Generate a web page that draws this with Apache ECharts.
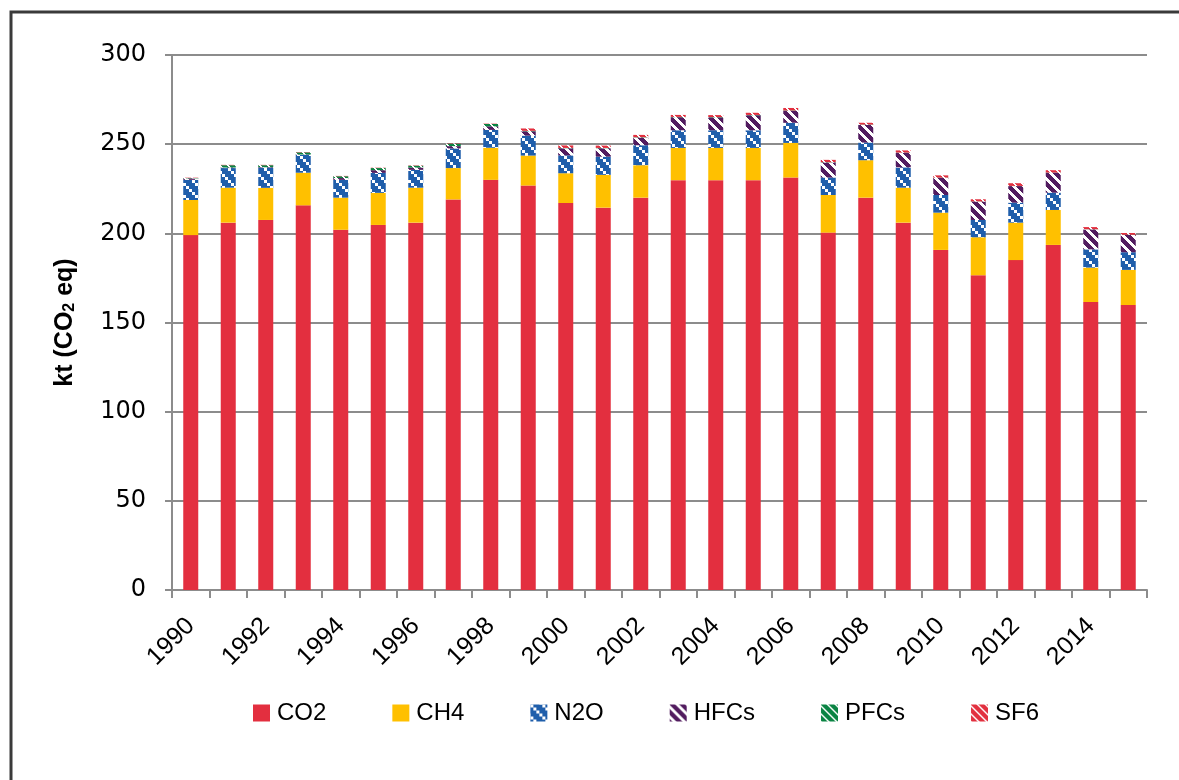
<!DOCTYPE html>
<html lang="en">

<head>
    <meta charset="UTF-8">
    <title>Emissions by gas</title>
    <style>
        html,
        body {
            margin: 0;
            height: 100%;
            background: #fff;
        }

        #container {
            width: 1179px;
            height: 780px;
        }
    </style>
</head>

<body>
    <div id="container"></div>
    <script src="https://cdn.jsdelivr.net/npm/echarts@6/dist/echarts.min.js"></script>
    <script>
        // values (kt CO2 eq)
        var years = ['1990', '1991', '1992', '1993', '1994', '1995', '1996', '1997', '1998', '1999',
            '2000', '2001', '2002', '2003', '2004', '2005', '2006', '2007', '2008', '2009',
            '2010', '2011', '2012', '2013', '2014', '2015'];
        var co2 = [199, 206, 207.5, 215.7, 202, 204.7, 206, 219, 230, 226.8,
            217, 214.4, 220, 229.8, 229.8, 229.8, 231.3, 200.4, 220, 206,
            190.7, 176.5, 185, 193.5, 161.5, 159.8];
        var ch4 = [19.7, 19.6, 18, 18.3, 18, 18, 19.6, 17.6, 18, 16.8,
            16.7, 18.4, 18.2, 18.1, 18.1, 18.1, 19.4, 21.1, 21, 19.6,
            20.9, 21.3, 21, 19.6, 19.3, 19.7];
        var n2o = [11.3, 11, 11.3, 10, 10, 11.2, 10, 11, 10, 11.2,
            10, 10.2, 11.2, 9.9, 9.9, 9.9, 11.3, 9.8, 9.9, 11.4,
            9.9, 9.7, 11.2, 9.7, 10.2, 9.9];
        var hfcs = [0.8, 0.3, 0.3, 0.2, 1.0, 1.5, 1.3, 1.3, 2.0, 2.4,
            4.0, 4.7, 4.3, 7.3, 7.2, 8.4, 6.7, 8.4, 9.9, 8.2,
            9.7, 10.3, 9.3, 11.2, 11.2, 9.7];
        var pfcs = [0.2, 1.3, 1.1, 1.2, 1.0, 1.2, 1.0, 1.3, 1.3, 0.3,
            0.2, 0.2, 0.2, 0.2, 0.2, 0.2, 0.2, 0.2, 0.2, 0.1,
            0.1, 0.1, 0.1, 0.1, 0.1, 0.1];
        var sf6 = [0.2, 0.2, 0.2, 0.2, 0.2, 0.2, 0.2, 0.2, 0.2, 1.3,
            1.4, 1.3, 1.3, 1.1, 1.1, 1.2, 1.4, 1.3, 1.0, 1.2,
            1.2, 1.2, 1.5, 1.3, 1.2, 1.0];

        // small hatch tiles, like the excel fill patterns
        function tile(fg, size, isWhite) {
            var c = document.createElement('canvas');
            c.width = size;
            c.height = size;
            var ctx = c.getContext('2d');
            ctx.fillStyle = fg;
            ctx.fillRect(0, 0, size, size);
            ctx.fillStyle = '#ffffff';
            for (var y = 0; y < size; y++) {
                for (var x = 0; x < size; x++) {
                    if (isWhite(x, y)) ctx.fillRect(x, y, 1, 1);
                }
            }
            return { image: c, repeat: 'repeat' };
        }
        // stair-step squares going down to the right
        var stairs = function (x, y) {
            var bx = Math.floor(x / 3), by = Math.floor(y / 3);
            return ((bx - by + 4) % 4) === 0;
        };
        var wideDiag = function (x, y) {
            return ((x - y + 20) % 10) >= 6;
        };
        var thinDiag = function (x, y) {
            return ((x - y + 16) % 8) >= 6;
        };

        var n2oFill = tile('#1f5eab', 12, stairs);
        var hfcFill = tile('#521c5f', 10, wideDiag);
        var pfcFill = tile('#0a8443', 8, thinDiag);
        var sf6Fill = tile('#e2303f', 8, thinDiag);

        var dom = document.getElementById('container');
        var myChart = echarts.init(dom);

        function bar(name, data, color) {
            return {
                name: name,
                type: 'bar',
                stack: 'total',
                barWidth: 15,
                data: data,
                itemStyle: { color: color },
                emphasis: { disabled: true }
            };
        }

        var option = {
            animation: false,
            textStyle: { fontFamily: 'Liberation Sans' },
            graphic: [
                {
                    type: 'rect',
                    shape: { x: 11, y: 12, width: 1400, height: 1000 },
                    style: { fill: 'none', stroke: '#3a3a3a', lineWidth: 3 }
                }
            ],
            grid: {
                left: 172,
                right: 32,
                top: 55,
                bottom: 190
            },
            legend: {
                left: 253,
                top: 701,
                padding: 0,
                itemWidth: 17,
                itemHeight: 17,
                itemGap: 66,
                icon: 'rect',
                textStyle: { fontSize: 24, color: '#000', padding: [0, 0, 0, 2] },
                data: ['CO2', 'CH4', 'N2O', 'HFCs', 'PFCs', 'SF6']
            },
            xAxis: {
                type: 'category',
                data: years,
                axisLine: { lineStyle: { color: '#8c8c8c', width: 2 } },
                axisTick: { show: true, interval: 0, length: 8, lineStyle: { color: '#8c8c8c', width: 2 } },
                axisLabel: {
                    interval: 1,
                    rotate: 45,
                    margin: 32,
                    fontSize: 25,
                    color: '#000'
                }
            },
            yAxis: {
                type: 'value',
                min: 0,
                max: 300,
                interval: 50,
                name: 'kt (CO{sub|2} eq)',
                nameLocation: 'middle',
                nameGap: 94,
                nameTextStyle: {
                    fontSize: 25,
                    fontWeight: 'bold',
                    color: '#000',
                    rich: {
                        sub: { fontSize: 16, fontWeight: 'bold', verticalAlign: 'bottom', padding: [10, 0, 0, 0] }
                    }
                },
                axisLine: { show: true, lineStyle: { color: '#8c8c8c', width: 2 } },
                axisTick: { show: true, length: 7, lineStyle: { color: '#8c8c8c', width: 2 } },
                axisLabel: {
                    margin: 26,
                    fontSize: 24,
                    fontFamily: 'DejaVu Sans',
                    color: '#000'
                },
                splitLine: { lineStyle: { color: '#8c8c8c', width: 2 } }
            },
            series: [
                bar('CO2', co2, '#e32f3f'),
                bar('CH4', ch4, '#ffc000'),
                bar('N2O', n2o, n2oFill),
                bar('HFCs', hfcs, hfcFill),
                bar('PFCs', pfcs, pfcFill),
                bar('SF6', sf6, sf6Fill)
            ]
        };

        myChart.setOption(option);
    </script>
</body>

</html>
